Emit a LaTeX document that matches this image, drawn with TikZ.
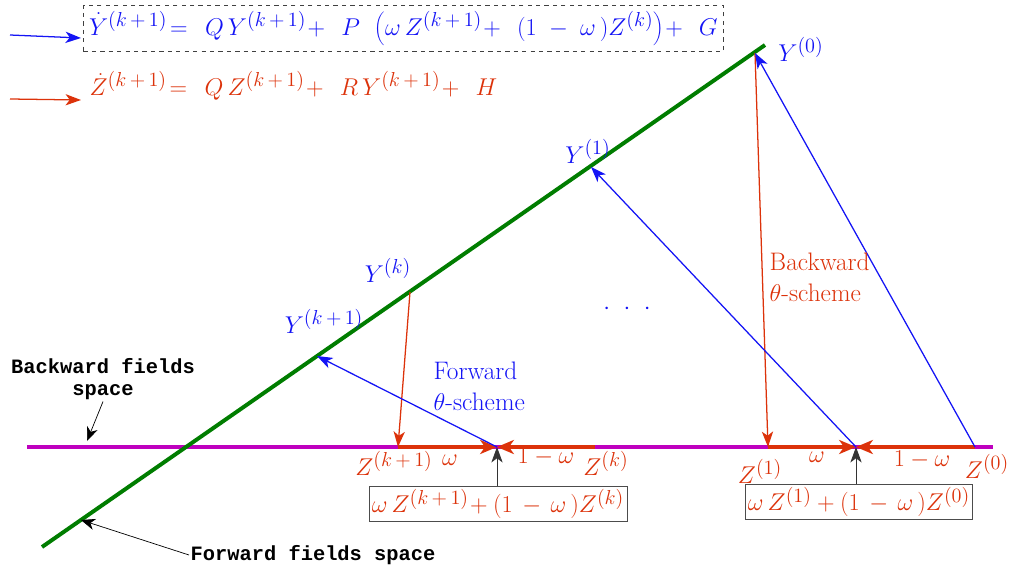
\documentclass[tikz,border=0pt]{standalone}
\usepackage{fontspec}
\newfontfamily\courb{Liberation Mono}
\usetikzlibrary{arrows.meta}
\definecolor{myblue}{RGB}{20,20,245}
\definecolor{myred}{RGB}{220,50,10}
\definecolor{mygreen}{RGB}{0,125,0}
\definecolor{mymag}{RGB}{190,0,190}
\newcommand{\kk}{(k\,+\,1)}
\newcommand{\bigstrut}{\rule[-7pt]{0pt}{24pt}}
\begin{document}
\begin{tikzpicture}[x=0.025cm,y=-0.025cm,
  mth/.style={font=\fontsize{19}{23}\selectfont, inner sep=1pt},
  txt/.style={font=\fontsize{18}{22}\selectfont, inner sep=1pt},
  bl/.style={mth, text=myblue},
  rd/.style={mth, text=myred},
  tt/.style={font=\courb\bfseries\fontsize{14.5}{16}\selectfont, inner sep=1pt, align=center},
  barrow/.style={myblue, line width=0.9pt, -{Stealth[length=11pt,width=8pt,inset=3pt]}},
  rarrow/.style={myred, line width=0.9pt, -{Stealth[length=11pt,width=8pt,inset=3pt]}},
  rthick/.style={myred, line width=2.6pt, -{Stealth[length=12pt,width=10pt,inset=3.5pt]}},
  karrow/.style={black!80, line width=0.6pt, -{Stealth[length=11pt,width=8pt,inset=3pt]}},
  kthin/.style={black, line width=0.5pt, -{Stealth[length=10pt,width=8pt,inset=3pt]}},
  resbox/.style={rd, draw=black!70, line width=0.6pt, inner sep=2pt, minimum height=32*0.709pt},
]
\useasboundingbox (0,0) rectangle (1010,571);

% legend
\coordinate (lb1) at (10,35); \coordinate (lb2) at (81,38);
\coordinate (lr1) at (10,99); \coordinate (lr2) at (81,100);
\draw[barrow] (lb1) -- (lb2);
\draw[rarrow] (lr1) -- (lr2);
\node[bl, draw=black!75, dashed, line width=0.6pt, anchor=west, inner ysep=1pt, inner xsep=4pt, minimum height=46*0.709pt] (eqY) at (83,28.5)
  {$\dot Y^{\kk}\!=\;\, Q\,Y^{\kk}\!+\;\, P\;\,\left(\bigstrut\omega\,Z^{\kk}\!+\;\,(1\;-\;\omega\,)Z^{(k)}\right)\!+\;\, G$};
\node[rd, anchor=west] (eqZ) at (88,86)
  {$\dot Z^{\kk}\!=\;\, Q\,Z^{\kk}\!+\;\, R\,Y^{\kk}\!+\;\, H$};

% spaces
\coordinate (gA) at (42,547); \coordinate (gB) at (765,45);
\coordinate (mA) at (27,447); \coordinate (mB) at (993,447);
\draw[mymag, line width=2.6pt] (mA) -- (mB);
\draw[mygreen, line width=2.8pt] (gA) -- (gB);

% points
\coordinate (Y0) at (755,53);
\coordinate (Y1) at (591,167);
\coordinate (Yk) at (410,292);
\coordinate (Yk1) at (317,356);
\coordinate (Zk1) at (398,447);
\coordinate (Mk) at (497,447);
\coordinate (Zk) at (595,447);
\coordinate (Z1) at (768,447);
\coordinate (M0) at (856,447);
\coordinate (Z0) at (975,447);

% thick red segments
\draw[rthick] (Zk1) -- (Mk);
\draw[rthick] (Zk) -- (Mk);
\draw[rthick] (Z1) -- (M0);
\draw[rthick] (Z0) -- (M0);

% schemes
\draw[rarrow] (Y0) -- (Z1);
\draw[rarrow] (Yk) -- (Zk1);
\draw[barrow] (Z0) -- (Y0);
\draw[barrow] (M0) -- (Y1);
\draw[barrow] (Mk) -- (Yk1);

% labels Y
\node[bl] (lY0) at (801,49) {$Y^{(0)}$};
\node[bl] (lY1) at (588,151) {$Y^{(1)}$};
\node[bl] (lYk) at (388,270) {$Y^{(k)}$};
\node[bl] (lYk1) at (324,321) {$Y^{\kk}$};
\node[bl] (dots) at (627,309) {$\cdot\,\,\cdot\,\,\cdot$};

\node[txt, text=myblue, align=left, anchor=west] (fw) at (432,386) {Forward\\$\theta$-scheme};
\node[txt, text=myred, align=left, anchor=west] (bw) at (768,277) {Backward\\$\theta$-scheme};

% labels Z
\node[rd] (lZk1) at (394,463) {$Z^{\kk}$};
\node[rd] (w1) at (450,460) {$\omega$};
\node[rd] (ow1) at (546,457) {$1-\omega$};
\node[rd] (lZk) at (606,463) {$Z^{(k)}$};
\node[rd] (lZ1) at (760,471) {$Z^{(1)}$};
\node[rd] (w2) at (817,457) {$\omega$};
\node[rd] (ow2) at (922,460) {$1-\omega$};
\node[rd] (lZ0) at (987,466) {$Z^{(0)}$};

% result boxes
\node[resbox] (rk) at (498,504) {$\omega\,Z^{\kk}\!+(1\,-\,\omega\,)Z^{(k)}$};
\node[resbox] (r0) at (859,502) {$\omega\,Z^{(1)}+(1\,-\,\omega\,)Z^{(0)}$};
\draw[karrow] (rk.north -| Mk) -- (Mk);
\draw[karrow] (r0.north -| M0) -- (M0);

% field space labels
\node[tt] (bfs) at (103,379) {Backward fields\\space};
\coordinate (bfsT) at (87,441);
\draw[kthin] (bfs.south) -- (bfsT);
\node[tt, anchor=west] (ffs) at (189,555) {Forward fields space};
\coordinate (ffsT) at (81,520);
\draw[kthin] (ffs.west) -- (ffsT);
\end{tikzpicture}
\end{document}
